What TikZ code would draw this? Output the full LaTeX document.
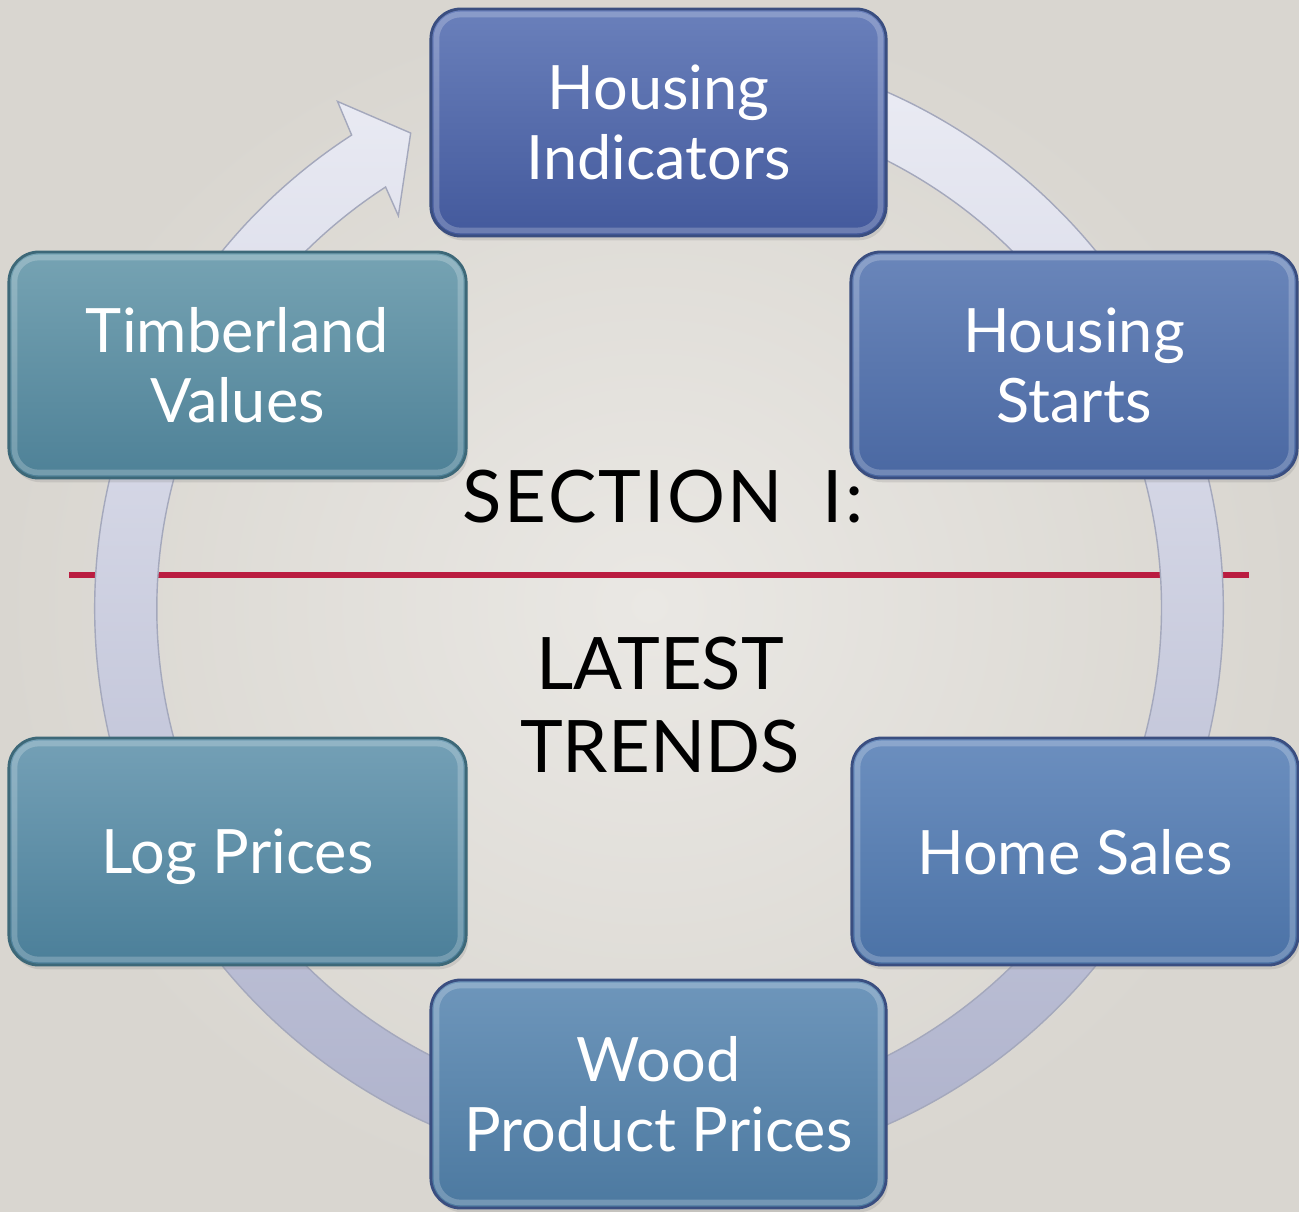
\documentclass[tikz,border=0pt]{standalone}
\usepackage{fontspec}
\setmainfont{Lato}
\usetikzlibrary{shadows}
\definecolor{bgin}{HTML}{EAE8E4}
\definecolor{bgout}{HTML}{D9D6D0}
\definecolor{ringtop}{HTML}{ECEDF5}
\definecolor{ringbot}{HTML}{ADB1CB}
\definecolor{ringedge}{HTML}{A4A8BC}
\definecolor{redline}{HTML}{BA1C40}
\definecolor{bAtop}{HTML}{6A80BB}\definecolor{bAbot}{HTML}{43599C}
\definecolor{bBtop}{HTML}{6A86BA}\definecolor{bBbot}{HTML}{4A68A2}
\definecolor{bCtop}{HTML}{6C8FBF}\definecolor{bCbot}{HTML}{4B72A6}
\definecolor{bDtop}{HTML}{6E96BB}\definecolor{bDbot}{HTML}{4C79A0}
\definecolor{tAtop}{HTML}{76A3B3}\definecolor{tAbot}{HTML}{4E8197}
\definecolor{tBtop}{HTML}{74A0B6}\definecolor{tBbot}{HTML}{4B7F99}
\definecolor{blueedge}{HTML}{3A4E80}
\definecolor{tealedge}{HTML}{3D6878}
\newfontfamily\boxfont{Lato}
\newfontfamily\sectfont[LetterSpace=3.5]{Lato}
\tikzset{
  box/.style={rounded corners=0.3cm, line width=0.8pt, text=white,
    font=\boxfont\fontsize{17.4}{19.9}\selectfont, align=center,
    drop shadow={opacity=0.22, shadow xshift=0.6pt, shadow yshift=-1.2pt}},
  bluebox/.style={box, draw=blueedge},
  tealbox/.style={box, draw=tealedge},
  bigtext/.style={text=black, font=\fontsize{20.6}{23.6}\selectfont, align=center, inner sep=0pt},
  bevel/.style={white, opacity=0.22, line width=1.6pt, rounded corners=0.24cm}
}
\begin{document}
\begin{tikzpicture}[x=0.01cm, y=0.01cm]
\useasboundingbox (0,0) rectangle (1299,-1211);
% background
\shade[inner color=bgin, outer color=bgout] (0,0) rectangle (1299,-1211);
% red divider
\draw[redline, line width=1.45pt] (69,-575) coordinate (ls) -- (1249,-575) coordinate (le);
% cycle ring with arrowhead
\coordinate (C) at (659,-608);
\shadedraw[top color=ringtop, bottom color=ringbot, draw=ringedge, line width=0.4pt]
  ([shift={(659,-608)}]90:564) arc[start angle=90, end angle=-237, radius=5.64cm]
  -- ([shift={(659,-608)}]122.4:600)
  -- ([shift={(659,-608)}]117.6:536)
  -- ([shift={(659,-608)}]123.6:471)
  -- ([shift={(659,-608)}]123:502)
  arc[start angle=-237, end angle=90, radius=5.02cm] -- cycle;
% boxes
\node[bluebox, top color=bAtop, bottom color=bAbot, minimum width=4.55cm, minimum height=2.27cm] (hi) at (658.5,-122.5) {Housing\\Indicators};
\node[bluebox, top color=bBtop, bottom color=bBbot, minimum width=4.46cm, minimum height=2.26cm] (hs) at (1074,-365) {Housing\\Starts};
\node[bluebox, top color=bCtop, bottom color=bCbot, minimum width=4.46cm, minimum height=2.27cm, text depth=0pt] (hm) at (1075,-851.5) {Home Sales};
\node[bluebox, top color=bDtop, bottom color=bDbot, minimum width=4.55cm, minimum height=2.28cm] (wp) at (658.5,-1094) {Wood\\Product Prices};
\node[tealbox, top color=tBtop, bottom color=tBbot, minimum width=4.57cm, minimum height=2.27cm, text depth=0pt] (lp) at (237.5,-851.5) {Log Prices};
\node[tealbox, top color=tAtop, bottom color=tAbot, minimum width=4.57cm, minimum height=2.26cm] (tv) at (237.5,-365) {Timberland\\Values};
\foreach \n in {hi,hs,hm,wp,lp,tv}
  \draw[bevel] ([shift={(7,-7)}]\n.north west) rectangle ([shift={(-7,7)}]\n.south east);
% centre title
\node[bigtext, font=\sectfont\fontsize{20.6}{23.6}\selectfont] (sec) at (663,-497) {SECTION\hspace{0.25em} I:};
\node[bigtext] (lt) at (660,-705) {LATEST\\TRENDS};
\end{tikzpicture}
\end{document}
